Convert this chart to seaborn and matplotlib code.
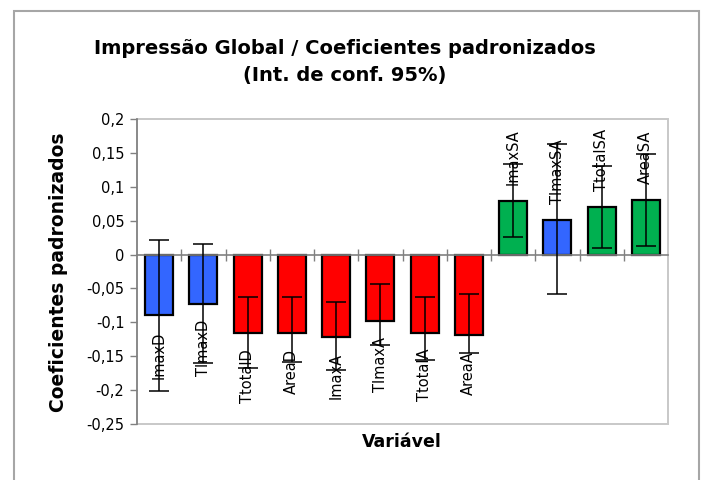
import matplotlib
matplotlib.use("Agg")
import matplotlib.pyplot as plt
from matplotlib.patches import Rectangle
import seaborn as sns
import pandas as pd

categories = ["ImaxD", "TlmaxD", "TtotalD", "AreaD", "ImaxA", "TlmaxA",
              "TtotalA", "AreaA", "ImaxSA", "TlmaxSA", "TtotalSA", "AreaSA"]
values = [-0.0895, -0.0723, -0.116, -0.1156, -0.1215, -0.0974,
          -0.115, -0.119, 0.0797, 0.0506, 0.0698, 0.081]
err_low = [-0.2007, -0.160, -0.168, -0.158, -0.170, -0.133,
           -0.155, -0.145, 0.026, -0.0576, 0.0093, 0.0133]
err_high = [0.022, 0.0158, -0.063, -0.063, -0.0693, -0.0433,
            -0.0625, -0.0576, 0.133, 0.163, 0.130, 0.149]
bar_colors = ["#3366FF", "#3366FF", "#FF0000", "#FF0000", "#FF0000", "#FF0000",
              "#FF0000", "#FF0000", "#00B050", "#3366FF", "#00B050", "#00B050"]
ytick_vals = [0.2, 0.15, 0.1, 0.05, 0, -0.05, -0.1, -0.15, -0.2, -0.25]
ytick_labels = ["0,2", "0,15", "0,1", "0,05", "0", "-0,05", "-0,1", "-0,15", "-0,2", "-0,25"]

sns.set_style("white")
plt.rcParams["font.family"] = ["DejaVu Sans"]
plt.rcParams["text.color"] = "black"
plt.rcParams["axes.labelcolor"] = "black"
plt.rcParams["xtick.color"] = "black"
plt.rcParams["ytick.color"] = "black"

df = pd.DataFrame({"Variável": categories, "Coef": values})

fig = plt.figure(figsize=(7.02, 4.8), dpi=100)
ax = fig.add_axes([137 / 702, 1 - 424 / 480, (668 - 137) / 702, (424 - 119) / 480])

sns.barplot(data=df, x="Variável", y="Coef", hue="Variável", palette=bar_colors,
            legend=False, width=0.63, edgecolor="black", linewidth=1.6, ax=ax,
            saturation=1, errorbar=None, zorder=2)

xs = list(range(len(categories)))
lower = [v - lo for v, lo in zip(values, err_low)]
upper = [hi - v for v, hi in zip(values, err_high)]
ax.errorbar(xs, values, yerr=[lower, upper], fmt="none", ecolor="black",
            elinewidth=1.1, capsize=7, capthick=1.1, zorder=4)

for x, v, c in zip(xs, values, categories):
    if v < 0:
        ax.annotate(c, (x, v), xytext=(0, -11.5), textcoords="offset points",
                    rotation=90, ha="center", va="top", fontsize=10.5,
                    color="black", zorder=5)
    else:
        ax.annotate(c, (x, v), xytext=(0, 11.5), textcoords="offset points",
                    rotation=90, ha="center", va="bottom", fontsize=10.5,
                    color="black", zorder=5)

ax.set_ylim(-0.25, 0.2)
ax.set_xlim(-0.5, len(categories) - 0.5)
ax.set_yticks(ytick_vals)
ax.set_yticklabels(ytick_labels, fontsize=10.5, color="black")
ax.tick_params(axis="y", direction="out", length=5, width=1, color="#808080",
               labelcolor="black", left=True, pad=4)

ax.spines["bottom"].set_position(("data", 0))
ax.spines["bottom"].set_color("#808080")
ax.spines["left"].set_color("#808080")
ax.spines["bottom"].set_linewidth(1.2)
ax.spines["left"].set_linewidth(1.2)
ax.spines["top"].set_visible(False)
ax.spines["right"].set_visible(False)
ax.set_xticks([i - 0.5 for i in range(1, len(categories))])
ax.set_xticklabels([])
ax.tick_params(axis="x", direction="inout", length=8, width=1, color="#808080",
               bottom=True)
ax.set_xlabel("")
ax.set_ylabel("")

ax.add_patch(Rectangle((0, 0), 1, 1, transform=ax.transAxes, fill=False,
                       edgecolor="#c8c8c8", linewidth=1.4, zorder=0, clip_on=False))

fig.text(345 / 702, 1 - 48 / 480, "Impressão Global / Coeficientes padronizados",
         ha="center", va="center", fontsize=14, fontweight="bold", color="black")
fig.text(345 / 702, 1 - 75 / 480, "(Int. de conf. 95%)",
         ha="center", va="center", fontsize=14, fontweight="bold", color="black")
fig.text(402 / 702, 1 - 442 / 480, "Variável", ha="center", va="center",
         fontsize=12.5, fontweight="bold", color="black")
fig.text(59 / 702, 1 - 272 / 480, "Coeficientes padronizados", ha="center",
         va="center", rotation=90, fontsize=13.5, fontweight="bold", color="black")

fig.patches.append(Rectangle((14 / 702, -0.02), (699 - 14) / 702, (480 - 11) / 480 + 0.02,
                             transform=fig.transFigure, fill=False,
                             edgecolor="#a6a6a6", linewidth=1.5, figure=fig))

fig.savefig("out.png", dpi=100)
